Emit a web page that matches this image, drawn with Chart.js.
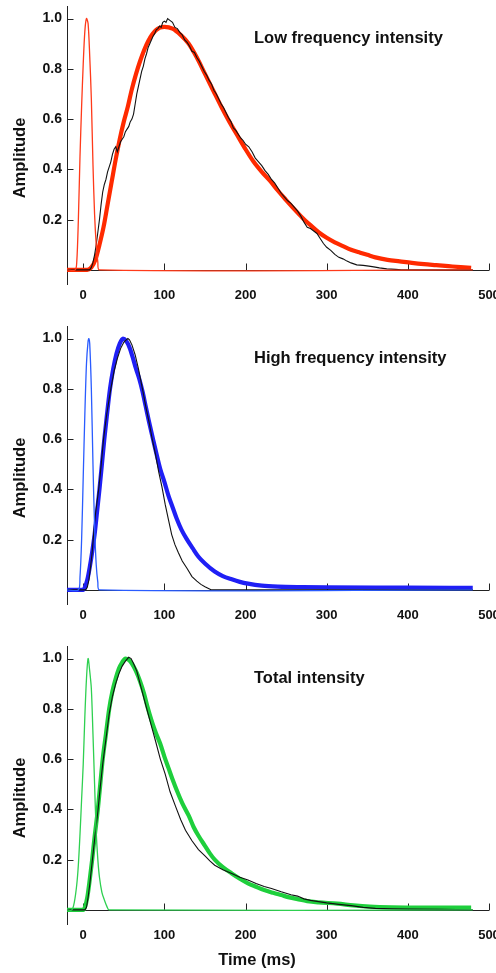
<!DOCTYPE html>
<html>
<head>
<meta charset="utf-8">
<script src="https://cdn.jsdelivr.net/npm/chart.js@4.4.1/dist/chart.umd.min.js"></script>
<style>
  body { margin: 0; background: #fff; }
  .panel { position: absolute; left: 0; }
</style>
</head>
<body>
<canvas id="lowChart" class="panel" style="top:0" width="496" height="320"></canvas>
<canvas id="highChart" class="panel" style="top:320px" width="496" height="320"></canvas>
<canvas id="totalChart" class="panel" style="top:640px" width="496" height="333"></canvas>
<script>
// axis ticks
const xTicks = [0, 100, 200, 300, 400, 500];
const yTicks = [0.2, 0.4, 0.6, 0.8, 1.0];

// low frequency panel
const lowPulseT = [-20, -10, -8, -6, -4, -2, 0, 2, 4, 6, 8, 10, 12, 14, 16, 18, 20, 480];
const lowPulseV = [0, 0, 0.03, 0.2, 0.45, 0.65, 0.82, 0.95, 1.0, 0.98, 0.85, 0.68, 0.42, 0.22, 0.1, 0.03, 0, 0];
const lowFitT = [-20, 5, 10, 15, 20, 25, 30, 35, 40, 45, 50, 55, 60, 70, 80, 90, 100, 110, 120, 130, 140, 150, 160, 170, 180, 190, 200, 210, 220, 230, 240, 250, 260, 270, 280, 290, 300, 310, 320, 330, 340, 350, 360, 375, 390, 405, 420, 435, 450, 465, 478];
const lowFitV = [0, 0, 0.01, 0.04, 0.1, 0.17, 0.26, 0.35, 0.44, 0.52, 0.59, 0.65, 0.72, 0.83, 0.91, 0.955, 0.967, 0.96, 0.935, 0.9, 0.845, 0.78, 0.715, 0.65, 0.59, 0.535, 0.48, 0.43, 0.39, 0.355, 0.315, 0.278, 0.242, 0.208, 0.178, 0.15, 0.128, 0.11, 0.095, 0.08, 0.07, 0.06, 0.05, 0.04, 0.034, 0.028, 0.023, 0.019, 0.015, 0.011, 0.008];
const lowDataT = [-20, 8, 10, 12, 14, 16, 18, 20, 22, 24, 26, 28, 30, 32, 34, 36, 38, 40, 42, 44, 46, 48, 50, 52, 54, 56, 58, 60, 62, 64, 66, 68, 70, 72, 74, 76, 78, 80, 82, 84, 86, 88, 90, 92, 94, 96, 98, 100, 102, 104, 106, 108, 110, 113, 116, 119, 122, 125, 128, 131, 134, 137, 140, 143, 146, 149, 152, 155, 158, 161, 164, 167, 170, 173, 176, 179, 182, 185, 188, 191, 194, 197, 200, 204, 208, 212, 216, 220, 224, 228, 232, 236, 240, 244, 248, 252, 256, 260, 264, 268, 272, 276, 280, 284, 288, 292, 296, 300, 305, 310, 315, 320, 325, 330, 337, 345, 352, 358, 365, 374, 385, 392, 480];
const lowDataV = [0, 0, 0.01, 0.03, 0.06, 0.1, 0.15, 0.2, 0.26, 0.31, 0.34, 0.36, 0.39, 0.41, 0.43, 0.46, 0.48, 0.49, 0.47, 0.49, 0.51, 0.52, 0.53, 0.55, 0.56, 0.57, 0.59, 0.6, 0.62, 0.66, 0.7, 0.73, 0.76, 0.79, 0.81, 0.84, 0.86, 0.885, 0.9, 0.915, 0.93, 0.94, 0.955, 0.96, 0.97, 0.965, 0.985, 0.99, 0.985, 1.0, 0.995, 0.99, 0.985, 0.965, 0.96, 0.945, 0.935, 0.915, 0.905, 0.89, 0.87, 0.865, 0.845, 0.83, 0.81, 0.79, 0.775, 0.755, 0.74, 0.715, 0.7, 0.68, 0.66, 0.645, 0.625, 0.605, 0.59, 0.565, 0.555, 0.54, 0.525, 0.515, 0.5, 0.49, 0.47, 0.445, 0.43, 0.415, 0.395, 0.38, 0.36, 0.345, 0.325, 0.305, 0.29, 0.275, 0.265, 0.25, 0.235, 0.215, 0.19, 0.17, 0.165, 0.155, 0.145, 0.125, 0.105, 0.09, 0.078, 0.062, 0.05, 0.044, 0.035, 0.028, 0.02, 0.018, 0.015, 0.012, 0.008, 0.004, 0.002, 0, 0];

// high frequency panel
const highPulseT = [-20, -6, -4, -2, 0, 2, 4, 6, 7, 8, 10, 12, 14, 16, 18, 20, 480];
const highPulseV = [0, 0, 0.05, 0.2, 0.45, 0.7, 0.9, 0.99, 1.0, 0.98, 0.8, 0.5, 0.25, 0.1, 0.03, 0, 0];
const highFitT = [-20, 0, 2, 5, 8, 11, 14, 17, 20, 23, 26, 29, 33, 37, 41, 45, 49, 53, 57, 61, 65, 69, 73, 77, 81, 86, 90, 95, 100, 105, 110, 115, 121, 127, 135, 142, 150, 162, 172, 183, 193, 203, 220, 240, 270, 300, 400, 480];
const highFitV = [0, 0, 0.01, 0.04, 0.09, 0.15, 0.22, 0.31, 0.4, 0.5, 0.6, 0.69, 0.8, 0.88, 0.94, 0.98, 1.0, 0.99, 0.965, 0.925, 0.88, 0.84, 0.79, 0.73, 0.67, 0.6, 0.545, 0.48, 0.43, 0.375, 0.33, 0.285, 0.24, 0.205, 0.165, 0.132, 0.105, 0.073, 0.055, 0.042, 0.032, 0.025, 0.017, 0.013, 0.011, 0.01, 0.009, 0.008];
const highDataT = [-20, 3, 5, 7, 9, 11, 13, 15, 17, 19, 21, 23, 25, 27, 29, 31, 34, 38, 42, 46, 50, 53, 55, 57, 60, 64, 68, 73, 77, 81, 85, 89, 93, 97, 101, 105, 109, 113, 117, 122, 128, 134, 140, 145, 150, 155, 158, 480];
const highDataV = [0, 0, 0.01, 0.04, 0.09, 0.15, 0.23, 0.3, 0.35, 0.4, 0.46, 0.53, 0.6, 0.65, 0.7, 0.74, 0.8, 0.87, 0.92, 0.96, 0.985, 0.995, 1.0, 0.995, 0.975, 0.935, 0.88, 0.8, 0.73, 0.67, 0.6, 0.54, 0.47, 0.41, 0.34, 0.28, 0.22, 0.18, 0.15, 0.115, 0.085, 0.053, 0.035, 0.022, 0.013, 0.005, 0, 0];

// total intensity panel
const totalPulseT = [-20, -14, -11, -8, -6, -4, -2, 0, 2, 4, 6, 8, 10, 12, 14, 16, 18, 20, 23, 26, 29, 32, 480];
const totalPulseV = [0, 0, 0.03, 0.1, 0.18, 0.3, 0.44, 0.58, 0.77, 0.92, 1.0, 0.95, 0.88, 0.7, 0.5, 0.31, 0.2, 0.13, 0.07, 0.04, 0.015, 0, 0];
const totalFitT = [-20, 0, 2, 5, 8, 11, 14, 18, 21, 24, 28, 32, 36, 40, 44, 48, 52, 56, 60, 65, 70, 75, 79, 85, 90, 95, 100, 105, 110, 116, 122, 130, 136, 142, 150, 156, 162, 172, 183, 193, 203, 213, 223, 234, 244, 254, 264, 276, 290, 313, 333, 353, 380, 420, 478];
const totalFitV = [0, 0, 0.01, 0.05, 0.12, 0.2, 0.29, 0.4, 0.5, 0.6, 0.7, 0.8, 0.87, 0.92, 0.96, 0.985, 1.0, 0.995, 0.98, 0.95, 0.91, 0.86, 0.81, 0.745, 0.7, 0.66, 0.61, 0.565, 0.52, 0.47, 0.425, 0.375, 0.33, 0.295, 0.255, 0.225, 0.2, 0.17, 0.145, 0.124, 0.106, 0.092, 0.079, 0.068, 0.059, 0.05, 0.043, 0.035, 0.03, 0.025, 0.018, 0.013, 0.01, 0.009, 0.009];
const totalDataT = [-20, 2, 4, 6, 8, 11, 14, 18, 21, 24, 28, 32, 36, 40, 44, 48, 52, 56, 59, 62, 66, 70, 75, 80, 85, 89, 95, 101, 107, 114, 120, 126, 134, 142, 150, 156, 162, 172, 183, 193, 203, 213, 223, 232, 244, 256, 264, 272, 280, 290, 300, 315, 330, 345, 360, 380, 400, 440, 480];
const totalDataV = [0, 0, 0.01, 0.05, 0.1, 0.19, 0.28, 0.39, 0.49, 0.58, 0.68, 0.78, 0.85, 0.9, 0.94, 0.97, 0.99, 1.005, 1.0, 0.98, 0.95, 0.9, 0.84, 0.78, 0.72, 0.673, 0.6, 0.54, 0.47, 0.41, 0.36, 0.317, 0.275, 0.24, 0.215, 0.195, 0.178, 0.16, 0.145, 0.13, 0.119, 0.105, 0.093, 0.085, 0.072, 0.06, 0.055, 0.044, 0.038, 0.033, 0.028, 0.022, 0.017, 0.01, 0.006, 0.004, 0.003, 0.002, 0];

const FONT = '"Liberation Sans", Arial, sans-serif';

function pts(t, v) {
    return t.map((x, i) => ({ x: x, y: v[i] }));
}

const framePlugin = {
    id: 'frame',
    beforeDatasetsDraw(chart) {
        const { ctx, scales: { x, y } } = chart;
        const y0 = Math.round(y.getPixelForValue(0)) + 0.5;
        const xl = Math.round(x.left) + 0.5;
        ctx.save();
        ctx.strokeStyle = '#222';
        ctx.lineWidth = 1;
        ctx.beginPath();
        // y axis
        ctx.moveTo(xl, Math.round(y.top));
        ctx.lineTo(xl, Math.round(y.bottom));
        // baseline at zero
        ctx.moveTo(xl, y0);
        ctx.lineTo(x.getPixelForValue(500), y0);
        xTicks.forEach(t => {
            const px = Math.round(x.getPixelForValue(t)) + 0.5;
            ctx.moveTo(px, y0);
            ctx.lineTo(px, y0 - 7);
        });
        yTicks.forEach(v => {
            const py = Math.round(y.getPixelForValue(v)) + 0.5;
            ctx.moveTo(xl, py);
            ctx.lineTo(xl + 6, py);
        });
        ctx.stroke();
        ctx.restore();
    },
    afterDraw(chart, args, opts) {
        const { ctx } = chart;
        ctx.save();
        ctx.fillStyle = '#111';
        ctx.font = 'bold 16.5px ' + FONT;
        ctx.textBaseline = 'middle';
        ctx.textAlign = 'left';
        ctx.fillText(opts.title, 254, 38);
        if (opts.xTitle) {
            ctx.textAlign = 'center';
            ctx.fillText(opts.xTitle, 257, 320);
        }
        ctx.translate(20, 158);
        ctx.rotate(-Math.PI / 2);
        ctx.textAlign = 'center';
        ctx.fillText('Amplitude', 0, 0);
        ctx.restore();
    }
};

function makePanel(id, title, xTitle, color, thinColor, pulse, data, fit) {
    const canvas = document.getElementById(id);
    const H = canvas.height;
    return new Chart(canvas, {
        type: 'line',
        data: {
            datasets: [
                { data: pulse, borderColor: thinColor, borderWidth: 1.3, tension: 0.3 },
                { data: data, borderColor: '#111', borderWidth: 1.1, tension: 0 },
                { data: fit, borderColor: color, borderWidth: 4.2, cubicInterpolationMode: 'monotone' }
            ]
        },
        options: {
            responsive: false,
            animation: false,
            devicePixelRatio: 1,
            layout: { padding: { top: 6, right: 7, bottom: 0, left: 0 } },
            elements: { point: { radius: 0 } },
            plugins: {
                legend: { display: false },
                tooltip: { enabled: false },
                frame: { title: title, xTitle: xTitle }
            },
            scales: {
                x: {
                    type: 'linear', min: -20, max: 500,
                    afterBuildTicks: s => { s.ticks = xTicks.map(v => ({ value: v })); },
                    afterFit: s => { s.height = H - 285; s.paddingLeft = 0; s.paddingRight = 0; },
                    grid: { display: false, drawTicks: false },
                    border: { display: false },
                    ticks: { padding: 3, maxRotation: 0, autoSkip: false, color: '#111',
                        font: { family: FONT, size: 13, weight: 'bold' } }
                },
                y: {
                    min: -0.06, max: 1.05,
                    afterBuildTicks: s => { s.ticks = yTicks.map(v => ({ value: v })); },
                    afterFit: s => { s.width = 67; s.paddingTop = 0; s.paddingBottom = 0; },
                    grid: { display: false, drawTicks: false },
                    border: { display: false },
                    ticks: { padding: 5, color: '#111', callback: v => v.toFixed(1),
                        font: { family: FONT, size: 14, weight: 'bold' } }
                }
            }
        },
        plugins: [framePlugin]
    });
}

makePanel('lowChart', 'Low frequency intensity', null, '#ff2a00', '#ff3a1a',
    pts(lowPulseT, lowPulseV), pts(lowDataT, lowDataV), pts(lowFitT, lowFitV));
makePanel('highChart', 'High frequency intensity', null, '#1f1ff5', '#2a5cff',
    pts(highPulseT, highPulseV), pts(highDataT, highDataV), pts(highFitT, highFitV));
makePanel('totalChart', 'Total intensity', 'Time (ms)', '#1ecf3c', '#2ed050',
    pts(totalPulseT, totalPulseV), pts(totalDataT, totalDataV), pts(totalFitT, totalFitV));
</script>
</body>
</html>
